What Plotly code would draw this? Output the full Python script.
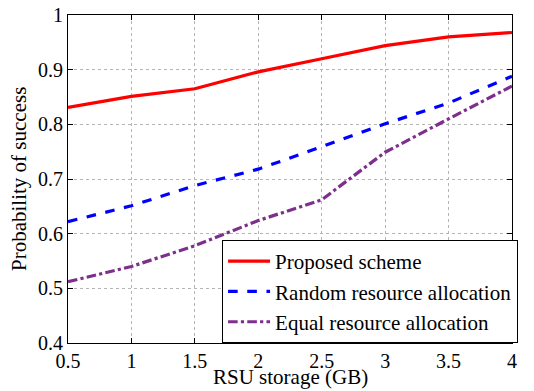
import plotly.graph_objects as go

# RSU storage (GB)
storage = [0.5, 1.0, 1.5, 2.0, 2.5, 3.0, 3.5, 4.0]

# Probability of success for each scheme
proposed = [0.831, 0.851, 0.865, 0.896, 0.920, 0.944, 0.960, 0.968]
random_alloc = [0.622, 0.651, 0.688, 0.718, 0.759, 0.801, 0.839, 0.888]
equal_alloc = [0.512, 0.540, 0.578, 0.624, 0.662, 0.749, 0.810, 0.870]

series_names = ["Proposed scheme", "Random resource allocation", "Equal resource allocation"]

x_ticks = [0.5, 1, 1.5, 2, 2.5, 3, 3.5, 4]
x_tick_text = ["0.5", "1", "1.5", "2", "2.5", "3", "3.5", "4"]
y_ticks = [0.4, 0.5, 0.6, 0.7, 0.8, 0.9, 1.0]
y_tick_text = ["0.4", "0.5", "0.6", "0.7", "0.8", "0.9", "1"]

x_title = "RSU storage (GB)"
y_title = "Probability of success"

FONT = "Liberation Serif"
TXT = dict(family=FONT, size=21, color="black")
TICK = dict(family=FONT, size=20, color="black")

fig = go.Figure()
fig.add_trace(go.Scatter(x=storage, y=proposed, mode="lines", name=series_names[0],
                         line=dict(color="#ff0000", width=3.2)))
fig.add_trace(go.Scatter(x=storage, y=random_alloc, mode="lines", name=series_names[1],
                         line=dict(color="#0000ff", width=3.2, dash="dash")))
fig.add_trace(go.Scatter(x=storage, y=equal_alloc, mode="lines", name=series_names[2],
                         line=dict(color="#7e2f8e", width=3.2, dash="dashdot")))

axis_common = dict(
    showline=True, linecolor="black", linewidth=1, mirror="ticks",
    ticks="inside", ticklen=5, tickcolor="black",
    showgrid=True, gridcolor="#b5b5b5", gridwidth=1, griddash="dot",
    zeroline=False, automargin=False,
    tickfont=TICK,
)

fig.update_xaxes(range=[0.5, 4], tickvals=x_ticks, ticktext=x_tick_text, **axis_common)
fig.update_yaxes(range=[0.4, 1.0], tickvals=y_ticks, ticktext=y_tick_text, **axis_common)

# Axis titles placed as annotations
fig.add_annotation(text=x_title, xref="paper", yref="paper", x=0.5, y=0,
                   yshift=-48, xanchor="center", yanchor="bottom",
                   showarrow=False, font=TXT)
fig.add_annotation(text=y_title, xref="paper", yref="paper", x=0, y=0.5,
                   xshift=-49, xanchor="center", yanchor="middle", textangle=-90,
                   showarrow=False, font=TXT)

fig.update_layout(
    width=534, height=391,
    margin=dict(l=68, r=22, t=15, b=48),
    paper_bgcolor="white", plot_bgcolor="white",
    font=TXT,
    legend=dict(x=0.347, y=0, xanchor="left", yanchor="bottom",
                bgcolor="white", bordercolor="black", borderwidth=1,
                font=TXT, tracegroupgap=0, itemwidth=42),
    showlegend=True,
)

fig.write_html("out.html")
